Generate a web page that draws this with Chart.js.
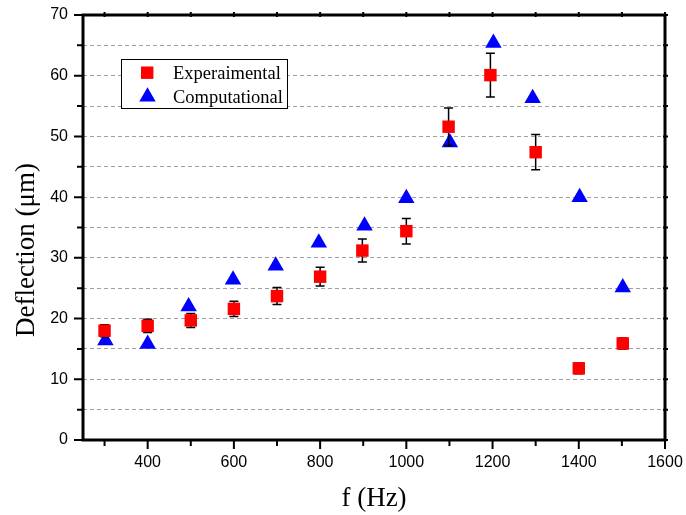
<!DOCTYPE html>
<html>
<head>
<meta charset="utf-8">
<script src="https://cdn.jsdelivr.net/npm/chart.js@4/dist/chart.umd.min.js"></script>
<style>
  body { margin: 0; background: #fff; }
  canvas { display: block; }
</style>
</head>
<body>
<canvas id="deflectionChart" width="686" height="515"></canvas>
<script>
// values
var freqExp = [300, 400, 500, 600, 700, 800, 898, 1000, 1098, 1195, 1300, 1400, 1502];
var deflExp = [18.0, 18.8, 19.7, 21.6, 23.7, 26.9, 31.2, 34.4, 51.6, 60.1, 47.4, 11.8, 15.9];
var errExp = [1.0, 1.1, 1.15, 1.25, 1.4, 1.55, 1.9, 2.1, 3.1, 3.6, 2.9, 0.9, 0.9];

var freqCom = [302, 400, 495, 598, 697, 797, 903, 1000, 1101, 1202, 1293, 1402, 1502];
var deflCom = [16.4, 15.8, 22.0, 26.4, 28.7, 32.5, 35.3, 39.8, 49.0, 65.4, 56.3, 40.0, 25.1];

var xTicks = [300, 400, 500, 600, 700, 800, 900, 1000, 1100, 1200, 1300, 1400, 1500, 1600];
var yTicks = [0, 5, 10, 15, 20, 25, 30, 35, 40, 45, 50, 55, 60, 65, 70];

var seriesNames = ['Experaimental', 'Computational'];

function toPoints(xs, ys) {
    return xs.map(function (x, i) { return { x: x, y: ys[i] }; });
}

// drop the extra room chart.js keeps for overhanging tick labels
function noLabelPadding(scale) {
    scale.paddingTop = 0;
    scale.paddingBottom = 0;
    scale.paddingLeft = 0;
    scale.paddingRight = 0;
}

var errorBars = {
    id: 'errorBars',
    beforeDatasetDraw: function (chart, args) {
        if (args.index !== 0) return;
        var ctx = chart.ctx;
        var xs = chart.scales.x, ys = chart.scales.y;
        ctx.save();
        ctx.strokeStyle = '#000';
        ctx.lineWidth = 1.5;
        for (var i = 0; i < freqExp.length; i++) {
            var px = xs.getPixelForValue(freqExp[i]);
            var top = ys.getPixelForValue(deflExp[i] + errExp[i]);
            var bot = ys.getPixelForValue(deflExp[i] - errExp[i]);
            ctx.beginPath();
            ctx.moveTo(px, top); ctx.lineTo(px, bot);
            ctx.moveTo(px - 4.5, top); ctx.lineTo(px + 4.5, top);
            ctx.moveTo(px - 4.5, bot); ctx.lineTo(px + 4.5, bot);
            ctx.stroke();
        }
        ctx.restore();
    }
};

var frameAndExtras = {
    id: 'frameAndExtras',
    afterDraw: function (chart) {
        var ctx = chart.ctx;
        var a = chart.chartArea;
        var xs = chart.scales.x, ys = chart.scales.y;
        ctx.save();
        ctx.strokeStyle = '#000';
        ctx.lineWidth = 2;
        ctx.beginPath();
        xTicks.forEach(function (v) {
            var px = xs.getPixelForValue(v);
            var len = (v % 200 === 0) ? 9 : 6;
            ctx.moveTo(px, a.bottom); ctx.lineTo(px, a.bottom + len);
            ctx.moveTo(px, a.top - 3); ctx.lineTo(px, a.top + 2);
        });
        yTicks.forEach(function (v) {
            var py = ys.getPixelForValue(v);
            var len = (v % 10 === 0) ? 9 : 6;
            ctx.moveTo(a.left, py); ctx.lineTo(a.left - len, py);
            ctx.moveTo(a.right + 3, py); ctx.lineTo(a.right - 2, py);
        });
        ctx.stroke();

        ctx.lineWidth = 3;
        ctx.strokeRect(a.left, a.top, a.right - a.left, a.bottom - a.top);

        // y axis title
        ctx.fillStyle = '#000';
        ctx.font = '27px "Liberation Serif"';
        ctx.textAlign = 'center';
        ctx.textBaseline = 'alphabetic';
        ctx.translate(34, 250);
        ctx.rotate(-Math.PI / 2);
        ctx.fillText('Deflection (\u03BCm)', 0, 0);
        ctx.restore();

        // legend
        ctx.save();
        ctx.lineWidth = 1;
        ctx.strokeStyle = '#000';
        ctx.fillStyle = '#fff';
        ctx.fillRect(121, 59, 166, 49);
        ctx.strokeRect(121.5, 59.5, 166, 49);
        ctx.fillStyle = '#ff0000';
        ctx.fillRect(141, 66.5, 12.4, 12.4);
        ctx.fillStyle = '#0000ff';
        ctx.beginPath();
        ctx.moveTo(147.5, 87.3);
        ctx.lineTo(155.7, 101.6);
        ctx.lineTo(139.3, 101.6);
        ctx.closePath();
        ctx.fill();
        ctx.fillStyle = '#000';
        ctx.font = '18.5px "Liberation Serif"';
        ctx.textAlign = 'left';
        ctx.textBaseline = 'alphabetic';
        ctx.fillText(seriesNames[0], 173, 79);
        ctx.fillText(seriesNames[1], 173, 103);
        ctx.restore();
    }
};

var ctx = document.getElementById('deflectionChart').getContext('2d');

var myChart = new Chart(ctx, {
    type: 'scatter',
    data: {
        datasets: [{
            label: seriesNames[0],
            data: toPoints(freqExp, deflExp),
            pointStyle: 'rect',
            pointRadius: 8.8,
            pointHoverRadius: 8.8,
            backgroundColor: '#ff0000',
            borderColor: '#ff0000',
            borderWidth: 0
        }, {
            label: seriesNames[1],
            data: toPoints(freqCom, deflCom),
            pointStyle: 'triangle',
            pointRadius: 9.5,
            pointHoverRadius: 9.5,
            backgroundColor: '#0000ff',
            borderColor: '#0000ff',
            borderWidth: 0
        }]
    },
    options: {
        responsive: false,
        animation: false,
        layout: {
            padding: { left: 0, right: 21, top: 15, bottom: 0 }
        },
        plugins: {
            legend: { display: false },
            tooltip: { enabled: false }
        },
        scales: {
            x: {
                type: 'linear',
                min: 250,
                max: 1600,
                afterFit: function (scale) { scale.height = 75; noLabelPadding(scale); },
                ticks: {
                    stepSize: 100,
                    autoSkip: false,
                    maxRotation: 0,
                    padding: 13,
                    color: '#000',
                    font: { family: '"Liberation Sans"', size: 16 },
                    callback: function (v) { return v % 200 === 0 ? v : ''; }
                },
                grid: { display: false, drawTicks: false },
                border: { display: false },
                title: {
                    display: true,
                    text: 'f (Hz)',
                    color: '#000',
                    font: { family: '"Liberation Serif"', size: 27 },
                    padding: { top: 0, bottom: 0 }
                }
            },
            y: {
                min: 0,
                max: 70,
                afterFit: function (scale) { scale.width = 83; noLabelPadding(scale); },
                ticks: {
                    stepSize: 5,
                    autoSkip: false,
                    padding: 15,
                    color: '#000',
                    font: { family: '"Liberation Sans"', size: 16 },
                    callback: function (v) { return v % 10 === 0 ? v : ''; }
                },
                grid: {
                    drawTicks: false,
                    lineWidth: 1,
                    color: function (c) {
                        if (c.tick && (c.tick.value === 0 || c.tick.value === 70)) return 'rgba(0,0,0,0)';
                        return '#a0a0a0';
                    }
                },
                border: { display: false, dash: [4, 3] }
            }
        }
    },
    plugins: [errorBars, frameAndExtras]
});
</script>
</body>
</html>
